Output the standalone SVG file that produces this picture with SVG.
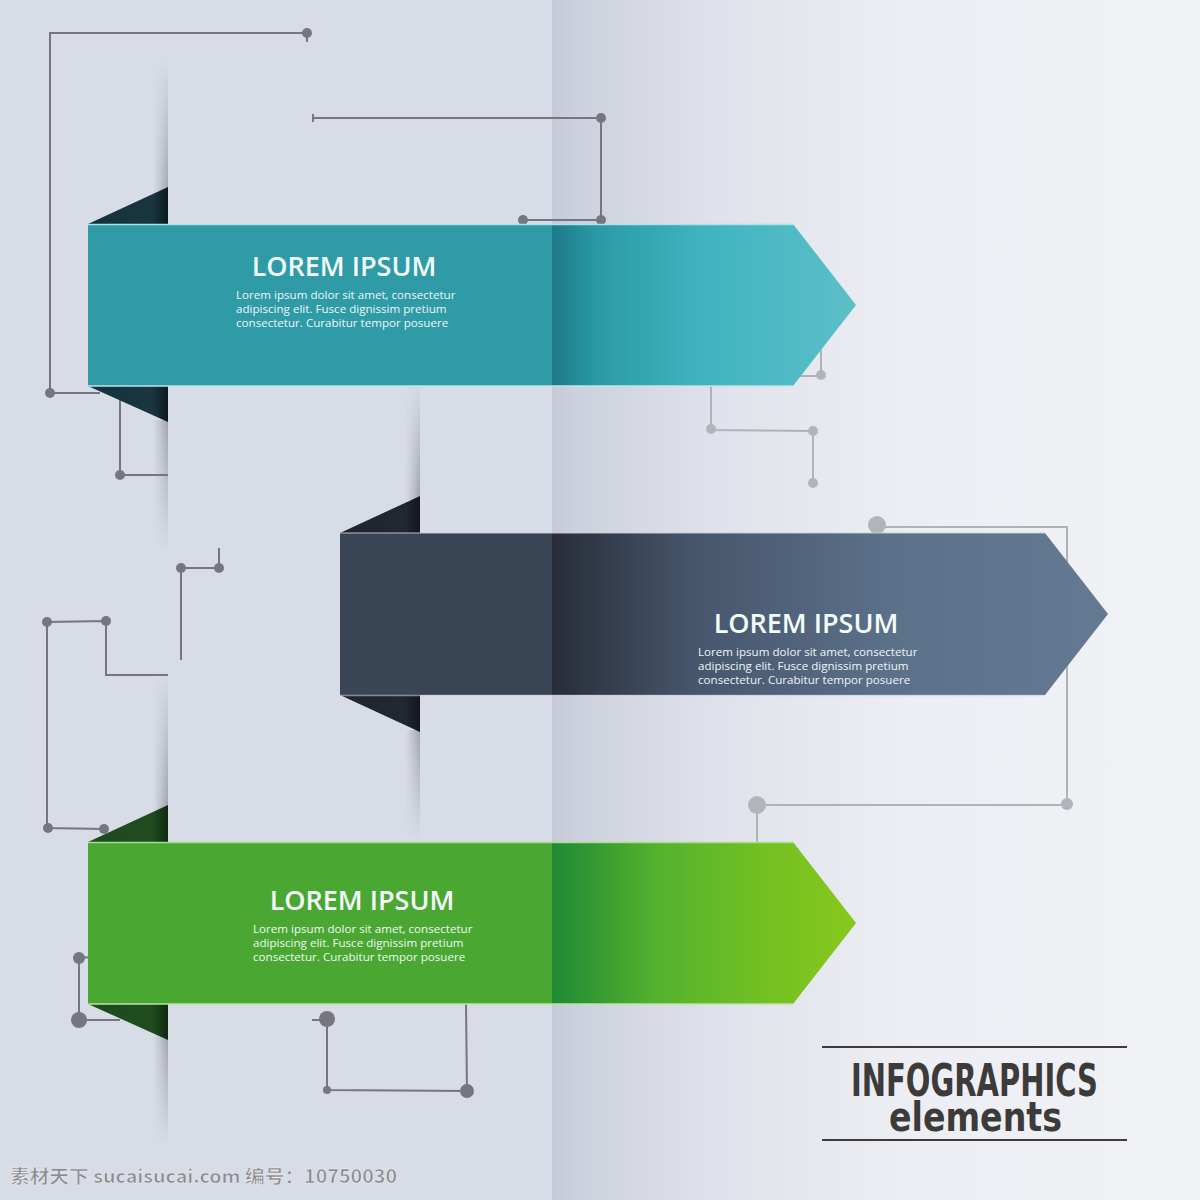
<svg xmlns="http://www.w3.org/2000/svg" width="1200" height="1200" viewBox="0 0 1200 1200">
<defs>
<linearGradient id="bgR" x1="552" y1="0" x2="1200" y2="0" gradientUnits="userSpaceOnUse">
<stop offset="0" stop-color="#c6cad8"/>
<stop offset="0.04" stop-color="#cdd1dd"/>
<stop offset="0.25" stop-color="#dfe2ea"/>
<stop offset="0.55" stop-color="#eceef3"/>
<stop offset="1" stop-color="#f1f2f6"/>
</linearGradient>
<linearGradient id="tealR" x1="552" y1="0" x2="856" y2="0" gradientUnits="userSpaceOnUse">
<stop offset="0" stop-color="#1d7a86"/>
<stop offset="0.15" stop-color="#2a9aa6"/>
<stop offset="0.5" stop-color="#3fb4c0"/>
<stop offset="1" stop-color="#5cbfc8"/>
</linearGradient>
<linearGradient id="darkR" x1="552" y1="0" x2="1108" y2="0" gradientUnits="userSpaceOnUse">
<stop offset="0" stop-color="#282d39"/>
<stop offset="0.25" stop-color="#46556b"/>
<stop offset="0.6" stop-color="#5b7089"/>
<stop offset="1" stop-color="#647a93"/>
</linearGradient>
<linearGradient id="greenR" x1="552" y1="0" x2="856" y2="0" gradientUnits="userSpaceOnUse">
<stop offset="0" stop-color="#1e8a33"/>
<stop offset="0.35" stop-color="#55b22e"/>
<stop offset="0.7" stop-color="#72c022"/>
<stop offset="1" stop-color="#88c81c"/>
</linearGradient>
<linearGradient id="foldTeal" x1="0" y1="0" x2="1" y2="0">
<stop offset="0" stop-color="#14323c"/>
<stop offset="0.8" stop-color="#1a3640"/>
<stop offset="1" stop-color="#0b1a20"/>
</linearGradient>
<linearGradient id="foldDark" x1="0" y1="0" x2="1" y2="0">
<stop offset="0" stop-color="#1f242d"/>
<stop offset="0.8" stop-color="#222832"/>
<stop offset="1" stop-color="#13161c"/>
</linearGradient>
<linearGradient id="foldGreen" x1="0" y1="0" x2="1" y2="0">
<stop offset="0" stop-color="#1e4b1e"/>
<stop offset="0.8" stop-color="#204c20"/>
<stop offset="1" stop-color="#0f2a10"/>
</linearGradient>
<linearGradient id="shH" x1="0" y1="0" x2="1" y2="0">
<stop offset="0" stop-color="#8a8d99" stop-opacity="0"/>
<stop offset="1" stop-color="#6e717d" stop-opacity="0.55"/>
</linearGradient>
<linearGradient id="fadeUp" x1="0" y1="0" x2="0" y2="1">
<stop offset="0" stop-color="#fff" stop-opacity="0"/>
<stop offset="1" stop-color="#fff" stop-opacity="1"/>
</linearGradient>
<linearGradient id="fadeDown" x1="0" y1="0" x2="0" y2="1">
<stop offset="0" stop-color="#fff" stop-opacity="1"/>
<stop offset="1" stop-color="#fff" stop-opacity="0"/>
</linearGradient>
<mask id="mUp" maskContentUnits="objectBoundingBox"><rect width="1" height="1" fill="url(#fadeUp)"/></mask>
<mask id="mDown" maskContentUnits="objectBoundingBox"><rect width="1" height="1" fill="url(#fadeDown)"/></mask>
<style>
.ln{fill:none;stroke:#76767e;stroke-width:2}
.dt{fill:#76767e}
.lnL{fill:none;stroke:#b0b2b9;stroke-width:2}
.dtL{fill:#b2b4bb}
.ttl{font-family:"Open Sans","Liberation Sans",sans-serif;font-weight:600;font-size:27px;fill:#f4fbfb}
.bd{font-family:"Open Sans","Liberation Sans",sans-serif;font-size:11.6px;fill:#eef6f6}
.edge{stroke-width:1.5;fill:none}
.hd{font-family:"DejaVu Sans Condensed","DejaVu Sans",sans-serif;font-stretch:condensed;font-weight:bold;fill:#3d3a3a}
</style>
</defs>

<g id="background">
<rect x="0" y="0" width="552" height="1200" fill="#d8dce6"/>
<rect x="552" y="0" width="648" height="1200" fill="url(#bgR)"/>
<rect x="153" y="60" width="15" height="140" fill="url(#shH)" mask="url(#mUp)"/>
<rect x="153" y="420" width="15" height="130" fill="url(#shH)" mask="url(#mDown)"/>
<rect x="153" y="670" width="15" height="140" fill="url(#shH)" mask="url(#mUp)"/>
<rect x="153" y="1035" width="15" height="110" fill="url(#shH)" mask="url(#mDown)"/>
<rect x="405" y="380" width="15" height="120" fill="url(#shH)" mask="url(#mUp)"/>
<rect x="405" y="730" width="15" height="110" fill="url(#shH)" mask="url(#mDown)"/>
</g>

<g id="connectors">
<polyline class="ln" points="307,33 50,33 50,393 100,393"/>
<line class="ln" x1="307" y1="33" x2="307" y2="42"/>
<circle class="dt" cx="307" cy="33" r="5"/>
<circle class="dt" cx="50" cy="393" r="5"/>
<polyline class="ln" points="313,118 601,118 601,220 523,220"/>
<line class="ln" x1="313" y1="114" x2="313" y2="122" stroke-width="1.5"/>
<circle class="dt" cx="601" cy="118" r="5"/>
<circle class="dt" cx="601" cy="220" r="5"/>
<circle class="dt" cx="523" cy="220" r="5"/>
<polyline class="ln" points="120,395 120,475 168,475"/>
<circle class="dt" cx="120" cy="475" r="5"/>
<polyline class="lnL" points="711,386 711,430 813,431 813,483"/>
<circle class="dtL" cx="711" cy="429" r="5"/>
<circle class="dtL" cx="813" cy="431" r="5"/>
<circle class="dtL" cx="813" cy="483" r="5"/>
<polyline class="lnL" points="821,350 821,376 800,376"/>
<circle class="dtL" cx="821" cy="375" r="5"/>
<polyline class="lnL" points="877,527 1067,527 1067,805 757,805 757,842"/>
<circle class="dtL" cx="877" cy="525" r="9"/>
<circle class="dtL" cx="1067" cy="804" r="6"/>
<circle class="dtL" cx="757" cy="805" r="9"/>
<polyline class="ln" points="181,660 181,568 219,568 219,548"/>
<circle class="dt" cx="181" cy="568" r="5"/>
<circle class="dt" cx="219" cy="568" r="5"/>
<polyline class="ln" points="168,675 106,675 106,621 47,622 47,828 104,829"/>
<circle class="dt" cx="47" cy="622" r="5"/>
<circle class="dt" cx="106" cy="621" r="5"/>
<circle class="dt" cx="48" cy="828" r="5"/>
<circle class="dt" cx="104" cy="829" r="5"/>
<polyline class="ln" points="92,957 79,958 79,1020 120,1020"/>
<circle class="dt" cx="79" cy="958" r="6"/>
<circle class="dt" cx="79" cy="1020" r="8"/>
<polyline class="ln" points="312,1020 327,1020 327,1090 467,1091 466,1004"/>
<circle class="dt" cx="327" cy="1019" r="8"/>
<circle class="dt" cx="327" cy="1090" r="4"/>
<circle class="dt" cx="467" cy="1091" r="7"/>
</g>

<g id="banner-teal">
<polygon points="88,224 168,187 168,224" fill="url(#foldTeal)"/>
<polygon points="88,386 168,422 168,386" fill="url(#foldTeal)"/>
<rect x="88" y="224" width="465" height="162" fill="#2e9ba7"/>
<polygon points="552,224 793,224 856,305 793,386 552,386" fill="url(#tealR)"/>
<line class="edge" x1="88" y1="224.5" x2="793" y2="224.5" stroke="#a9e4ea"/>
<line class="edge" x1="88" y1="386" x2="793" y2="386" stroke="#bfe3ea"/>
<text class="ttl" x="344" y="276" text-anchor="middle">LOREM IPSUM</text>
<text class="bd" x="236" y="299">Lorem ipsum dolor sit amet, consectetur</text>
<text class="bd" x="236" y="313">adipiscing elit. Fusce dignissim pretium</text>
<text class="bd" x="236" y="327">consectetur. Curabitur tempor posuere</text>
</g>

<g id="banner-dark">
<polygon points="340,533 420,496 420,533" fill="url(#foldDark)"/>
<polygon points="340,695 420,732 420,695" fill="url(#foldDark)"/>
<rect x="340" y="533" width="213" height="162" fill="#394555"/>
<polygon points="552,533 1045,533 1108,614 1045,695 552,695" fill="url(#darkR)"/>
<line class="edge" x1="340" y1="533" x2="1045" y2="533" stroke="#c9ced8" stroke-opacity="0.6"/>
<line class="edge" x1="340" y1="695.5" x2="1045" y2="695.5" stroke="#c9ced8" stroke-opacity="0.6"/>
<text class="ttl" x="806" y="633" text-anchor="middle">LOREM IPSUM</text>
<text class="bd" x="698" y="656">Lorem ipsum dolor sit amet, consectetur</text>
<text class="bd" x="698" y="670">adipiscing elit. Fusce dignissim pretium</text>
<text class="bd" x="698" y="684">consectetur. Curabitur tempor posuere</text>
</g>

<g id="banner-green">
<polygon points="88,842 168,805 168,842" fill="url(#foldGreen)"/>
<polygon points="88,1004 168,1040 168,1004" fill="url(#foldGreen)"/>
<rect x="88" y="842" width="465" height="162" fill="#4aa832"/>
<polygon points="552,842 793,842 856,923 793,1004 552,1004" fill="url(#greenR)"/>
<line class="edge" x1="88" y1="842.5" x2="793" y2="842.5" stroke="#a8de90"/>
<line class="edge" x1="88" y1="1004" x2="793" y2="1004" stroke="#b8e4a0"/>
<text class="ttl" x="362" y="910" text-anchor="middle">LOREM IPSUM</text>
<text class="bd" x="253" y="933">Lorem ipsum dolor sit amet, consectetur</text>
<text class="bd" x="253" y="947">adipiscing elit. Fusce dignissim pretium</text>
<text class="bd" x="253" y="961">consectetur. Curabitur tempor posuere</text>
</g>

<g id="title">
<line x1="822" y1="1047" x2="1127" y2="1047" stroke="#3d3b3b" stroke-width="2"/>
<line x1="822" y1="1140" x2="1127" y2="1140" stroke="#3d3b3b" stroke-width="2"/>
<text class="hd" x="851" y="1096" font-size="45" textLength="247" lengthAdjust="spacingAndGlyphs">INFOGRAPHICS</text>
<text class="hd" x="889" y="1131" font-size="40" textLength="173" lengthAdjust="spacingAndGlyphs">elements</text>
</g>

<g id="watermark">
<text x="10" y="1183" textLength="387" lengthAdjust="spacingAndGlyphs" font-family="'Noto Sans CJK SC','DejaVu Sans',sans-serif" font-weight="bold" font-size="18" fill="#8a8a90" stroke="#ffffff" stroke-width="0.6" stroke-opacity="0.7">素材天下 sucaisucai.com  编号：10750030</text>
</g>
</svg>
